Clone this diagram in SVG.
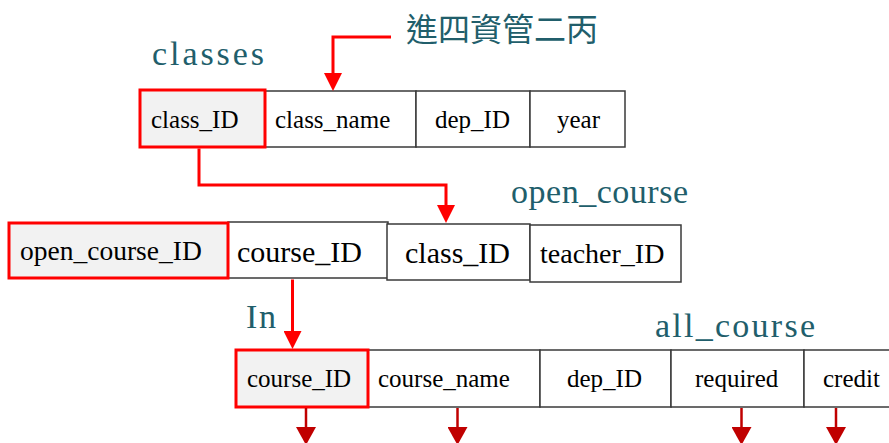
<svg xmlns="http://www.w3.org/2000/svg" width="889" height="443" viewBox="0 0 889 443">
<style>
.cell{fill:#ffffff;stroke:#3a3a3a;stroke-width:1.5}
.key{fill:#f2f2f2;stroke:#ff0000;stroke-width:3}
.t{font-family:"Liberation Serif","Times New Roman",serif;fill:#000000}
.title{font-family:"Liberation Serif","Times New Roman",serif;font-size:34px;fill:#215e6b}
.cjk{font-family:"Noto Sans CJK TC","Noto Sans CJK SC",sans-serif;font-size:32px;fill:#215e6b}
.c1{fill:none;stroke:#ff0000;stroke-width:3}
.c2{fill:none;stroke:#c00000;stroke-width:2.5}
</style>
<defs>
<marker id="ah" viewBox="0 0 18 18" markerUnits="userSpaceOnUse" markerWidth="18" markerHeight="18" refX="0" refY="9" orient="auto"><path d="M0,0 L18,9 L0,18 z" fill="#ff0000"/></marker>
<marker id="ah2" viewBox="0 0 18 20" markerUnits="userSpaceOnUse" markerWidth="18" markerHeight="20" refX="0" refY="10" orient="auto"><path d="M0,0 L18,10 L0,20 z" fill="#c00000"/></marker>
</defs>
<rect width="889" height="443" fill="#ffffff"/>

<g id="labels">
<text class="title" x="152" y="65" textLength="112" lengthAdjust="spacing">classes</text>
<text class="cjk" x="406" y="41">進四資管二丙</text>
<text class="title" x="511" y="203" textLength="177" lengthAdjust="spacing">open_course</text>
<text class="title" x="246" y="328" textLength="30" lengthAdjust="spacing">In</text>
<text class="title" x="655" y="337" textLength="160" lengthAdjust="spacing">all_course</text>
</g>

<g id="classes">
<g id="classes-class_name"><rect class="cell" x="265" y="91" width="151" height="56"/><text class="t" x="275" y="128" font-size="25">class_name</text></g>
<g id="classes-dep_ID"><rect class="cell" x="416" y="91" width="114" height="56"/><text class="t" x="435" y="128" font-size="25">dep_ID</text></g>
<g id="classes-year"><rect class="cell" x="530" y="91" width="95" height="56"/><text class="t" x="557" y="128" font-size="25">year</text></g>
<g id="classes-class_ID"><rect class="key" x="140" y="90" width="125" height="57"/><text class="t" x="151" y="128" font-size="25">class_ID</text></g>
</g>

<g id="open_course">
<g id="open_course-course_ID"><rect class="cell" x="228" y="222" width="160" height="56"/><text class="t" x="237" y="262" font-size="30">course_ID</text></g>
<g id="open_course-class_ID"><rect class="cell" x="387" y="224" width="143" height="56"/><text class="t" x="405" y="263" font-size="30">class_ID</text></g>
<g id="open_course-teacher_ID"><rect class="cell" x="530" y="225" width="151" height="57"/><text class="t" x="540" y="263" font-size="28">teacher_ID</text></g>
<g id="open_course-open_course_ID"><rect class="key" x="9" y="223" width="219" height="55"/><text class="t" x="20" y="260" font-size="27.5">open_course_ID</text></g>
</g>

<g id="all_course">
<g id="all_course-course_name"><rect class="cell" x="368" y="350" width="172" height="57"/><text class="t" x="378" y="387" font-size="25">course_name</text></g>
<g id="all_course-dep_ID"><rect class="cell" x="540" y="350" width="131" height="57"/><text class="t" x="567" y="387" font-size="25">dep_ID</text></g>
<g id="all_course-required"><rect class="cell" x="671" y="350" width="133" height="57"/><text class="t" x="695" y="387" font-size="25">required</text></g>
<g id="all_course-credit"><rect class="cell" x="804" y="350" width="90" height="57"/><text class="t" x="823" y="387" font-size="25">credit</text></g>
<g id="all_course-course_ID"><rect class="key" x="236" y="350" width="132" height="57"/><text class="t" x="247" y="387" font-size="25">course_ID</text></g>
</g>

<g id="connectors">
<path class="c1" d="M391,37 H333 V73" marker-end="url(#ah)"/>
<path class="c1" d="M199,148.5 V185 H446 V205" marker-end="url(#ah)"/>
<path class="c1" d="M292.5,279.5 V331" marker-end="url(#ah)"/>
<path class="c2" d="M306,408 V427" marker-end="url(#ah2)"/>
<path class="c2" d="M457.5,408 V427" marker-end="url(#ah2)"/>
<path class="c2" d="M741.5,408 V427" marker-end="url(#ah2)"/>
<path class="c2" d="M836,408 V427" marker-end="url(#ah2)"/>
</g>
</svg>
